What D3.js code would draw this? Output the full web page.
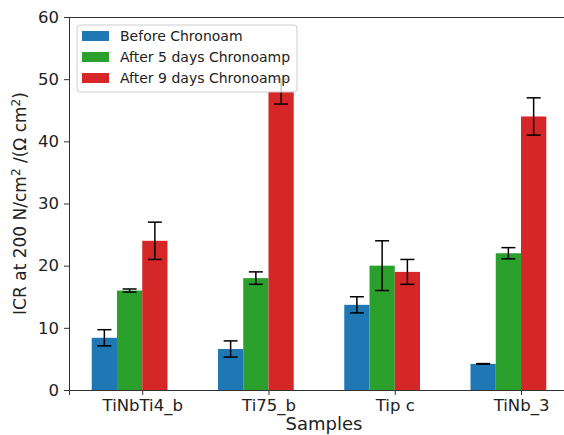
<!DOCTYPE html>
<html>
<head>
<meta charset="utf-8">
<script src="https://cdn.jsdelivr.net/npm/d3@7"></script>
<style>
  body { margin: 0; background: #fff; }
  svg { display: block; font-family: "DejaVu Sans", sans-serif; }
</style>
</head>
<body>
<div id="chart"></div>
<script>
// data
const samples = ['TiNbTi4_b', 'Ti75_b', 'Tip c', 'TiNb_3'];
const seriesNames = ['Before Chronoam', 'After 5 days Chronoamp', 'After 9 days Chronoamp'];
const beforeVals = [8.4, 6.6, 13.7, 4.2];
const beforeErr = [1.3, 1.3, 1.3, 0.05];
const after5Vals = [16.0, 18.0, 20.0, 22.0];
const after5Err = [0.25, 1.0, 4.0, 0.9];
const after9Vals = [24.0, 48.0, 19.0, 44.0];
const after9Err = [3.0, 2.0, 2.0, 3.0];
const yTicks = [0, 10, 20, 30, 40, 50, 60];
const colors = ['#1f77b4', '#2ca02c', '#d62728'];

const series = [
  { name: seriesNames[0], vals: beforeVals, err: beforeErr, color: colors[0] },
  { name: seriesNames[1], vals: after5Vals, err: after5Err, color: colors[1] },
  { name: seriesNames[2], vals: after9Vals, err: after9Err, color: colors[2] }
];

const width = 564, height = 435;
const mLeft = 69, mRight = 569, mTop = 17, mBottom = 390;

const svg = d3.select('#chart').append('svg')
  .attr('width', width)
  .attr('height', height);

// x in "sample index" units, matplotlib-like margins
const barW = 0.2;
const x = d3.scaleLinear().domain([-0.58, 3.38]).range([mLeft, mRight]);
const y = d3.scaleLinear().domain([0, 60]).range([mBottom, mTop]);

// bars: blue at i-2w, green at i-w, red at i (left edges)
series.forEach((s, k) => {
  const off = (k - 2) * barW;
  svg.append('g').selectAll('rect')
    .data(s.vals)
    .enter().append('rect')
    .attr('x', (d, i) => x(i + off))
    .attr('width', x(barW) - x(0))
    .attr('y', d => y(d))
    .attr('height', d => y(0) - y(d))
    .attr('fill', s.color);
});

// error bars
series.forEach((s, k) => {
  const off = (k - 2) * barW + barW / 2;
  const g = svg.append('g').attr('stroke', '#000').attr('stroke-width', 1.5);
  s.vals.forEach((v, i) => {
    const cx = x(i + off);
    const y1 = y(v + s.err[i]), y2 = y(v - s.err[i]);
    g.append('line').attr('x1', cx).attr('x2', cx).attr('y1', y1).attr('y2', y2);
    g.append('line').attr('x1', cx - 7).attr('x2', cx + 7).attr('y1', y1).attr('y2', y1);
    g.append('line').attr('x1', cx - 7).attr('x2', cx + 7).attr('y1', y2).attr('y2', y2);
  });
});

// axes
const yAxis = svg.append('g')
  .attr('transform', `translate(${mLeft},0)`)
  .call(d3.axisLeft(y).tickValues(yTicks).tickSize(5).tickPadding(5));
const xAxis = svg.append('g')
  .attr('transform', `translate(0,${mBottom})`)
  .call(d3.axisBottom(x).tickValues([0, 1, 2, 3]).tickFormat(i => samples[i]).tickSize(5).tickPadding(4));

[yAxis, xAxis].forEach(ax => {
  ax.selectAll('text').attr('font-size', 16.5).attr('fill', '#222')
    .attr('font-family', '"DejaVu Sans", sans-serif');
  ax.select('.domain').attr('stroke', '#333');
  ax.selectAll('.tick line').attr('stroke', '#333');
});

// top spine
svg.append('line')
  .attr('x1', mLeft).attr('x2', mRight)
  .attr('y1', mTop + 0.5).attr('y2', mTop + 0.5)
  .attr('stroke', '#333');

// axis labels
const yLab = svg.append('text')
  .attr('transform', `translate(26,${(mTop + mBottom) / 2}) rotate(-90)`)
  .attr('text-anchor', 'middle')
  .attr('font-size', 17)
  .attr('fill', '#222');
yLab.append('tspan').text('ICR at 200 N/cm');
yLab.append('tspan').attr('dy', -6).attr('font-size', 12).text('2');
yLab.append('tspan').attr('dy', 6).text(' /(Ω cm');
yLab.append('tspan').attr('dy', -6).attr('font-size', 12).text('2');
yLab.append('tspan').attr('dy', 6).text(')');

svg.append('text')
  .attr('x', 324)
  .attr('y', 430)
  .attr('text-anchor', 'middle')
  .attr('font-size', 18)
  .attr('fill', '#222')
  .text('Samples');

// legend
const leg = svg.append('g');
leg.append('rect')
  .attr('x', 77).attr('y', 25)
  .attr('width', 220).attr('height', 67)
  .attr('rx', 3)
  .attr('fill', '#fff').attr('fill-opacity', 0.8)
  .attr('stroke', '#ccc');
series.forEach((s, k) => {
  const cy = 36 + k * 21;
  leg.append('rect')
    .attr('x', 82).attr('y', cy - 5)
    .attr('width', 27).attr('height', 10)
    .attr('fill', s.color);
  leg.append('text')
    .attr('x', 120).attr('y', cy)
    .attr('dy', '0.35em')
    .attr('font-size', 14)
    .attr('fill', '#222')
    .text(s.name);
});
</script>
</body>
</html>
